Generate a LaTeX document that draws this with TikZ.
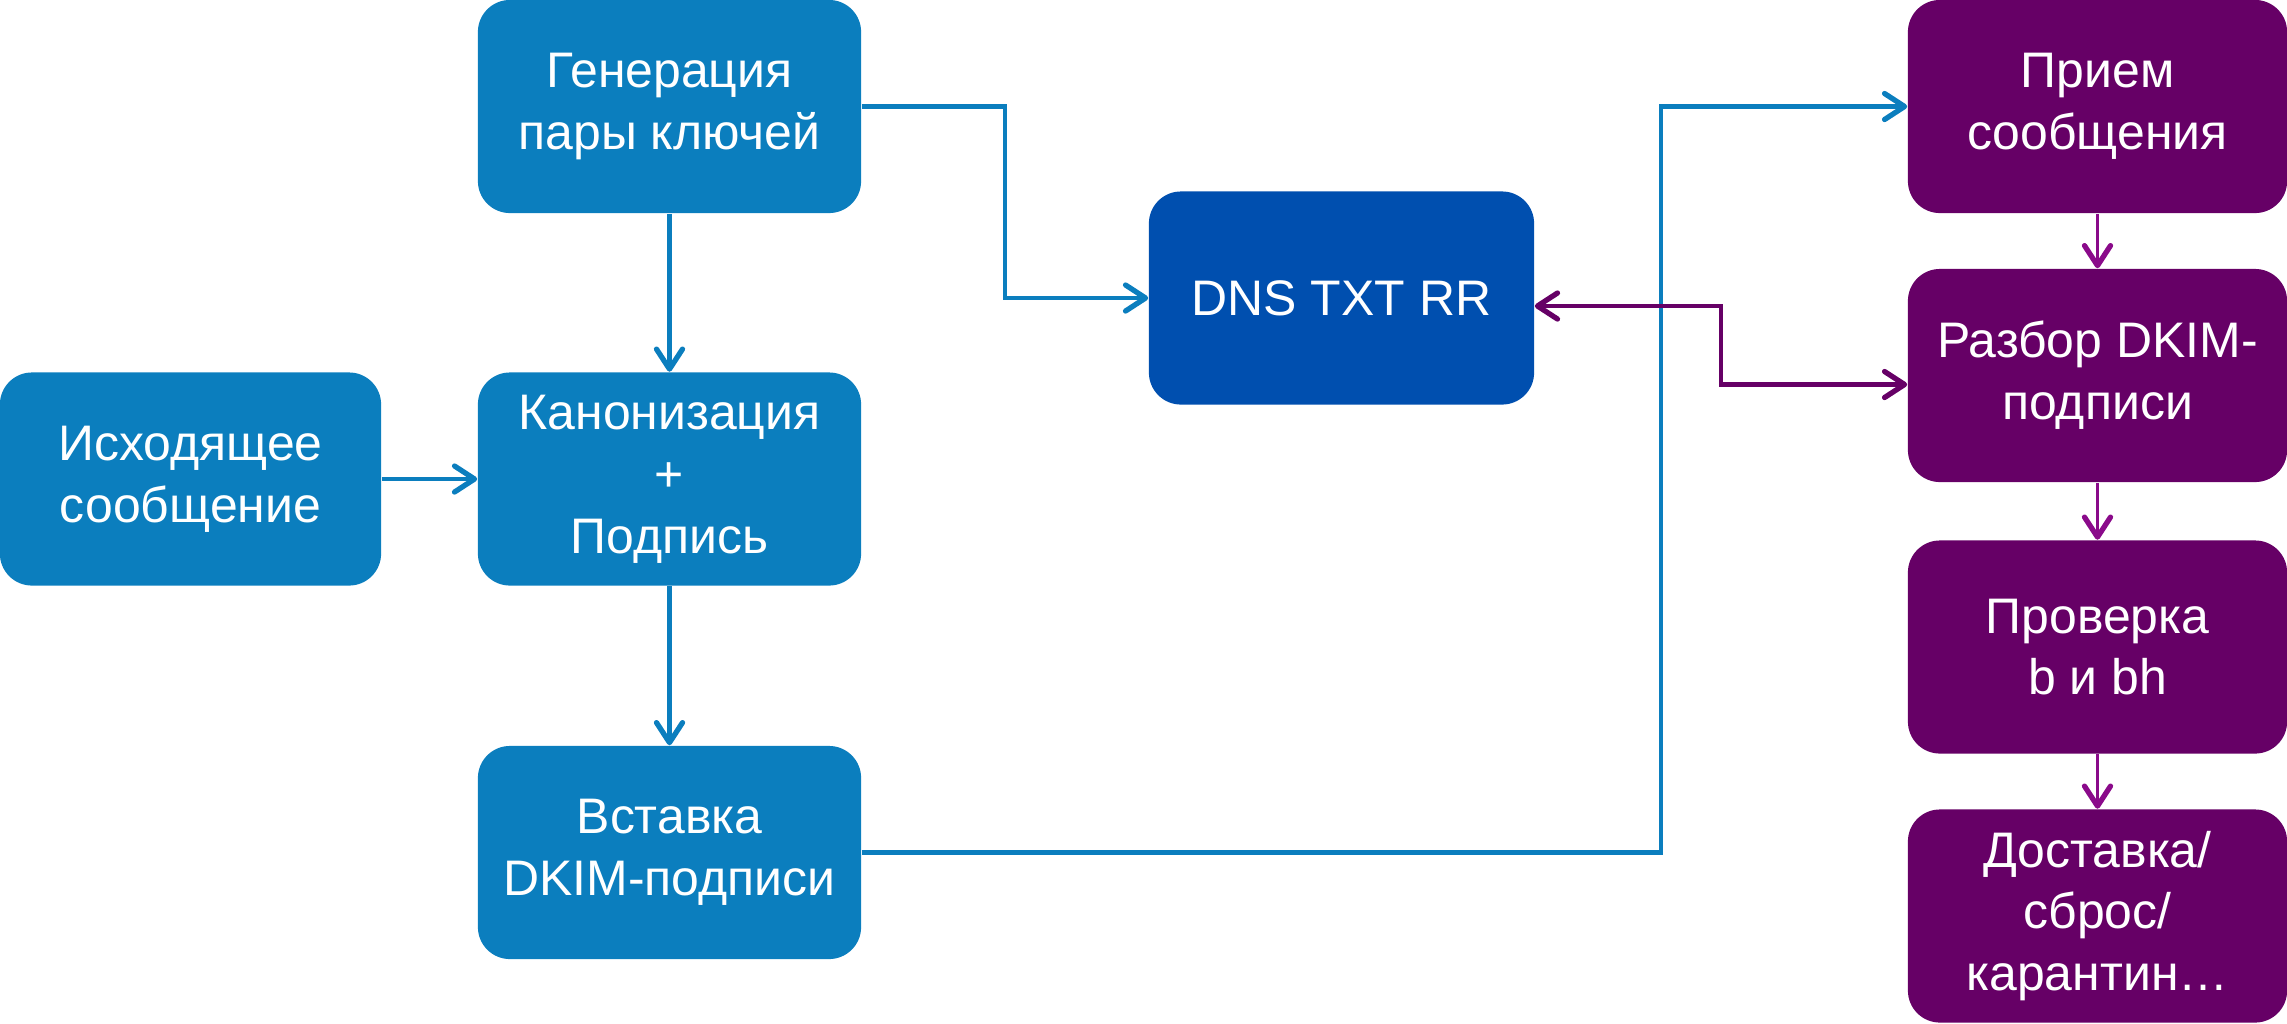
\documentclass[tikz,border=0pt]{standalone}
\usepackage{fontspec}
\setmainfont{Liberation Sans}
\usetikzlibrary{arrows.meta,calc}
\definecolor{bluebox}{HTML}{0B7EBE}
\definecolor{dnsbox}{HTML}{004FAF}
\definecolor{purplebox}{HTML}{660066}
\definecolor{purplearrow}{HTML}{8A0A8A}
\tikzset{
  barbtip/.tip={Straight Barb[length=2mm,width=2.6mm,line width=1.5pt,round]},
  box/.style={rectangle, rounded corners=0.32cm, minimum width=3.83cm, minimum height=2.13cm,
    text=white, align=center, inner sep=0pt, font=\fontsize{14.2}{17.6}\selectfont},
  bluenode/.style={box, fill=bluebox},
  dnsnode/.style={box, fill=dnsbox, minimum width=3.85cm},
  purplenode/.style={box, fill=purplebox, minimum width=3.79cm},
  bluearrow/.style={draw=bluebox, line width=1.2pt, -barbtip},
  purplelink/.style={draw=purplebox, line width=1.2pt, barbtip-barbtip},
  purplearr/.style={draw=purplearrow, line width=1.1pt, -barbtip},
}
\begin{document}
\begin{tikzpicture}[x=0.01cm, y=-0.01cm]
\useasboundingbox (0,0) rectangle (2287,1023);
\node[bluenode] (gen) at (669.5,106.5) {Генерация\\пары ключей};
\node[bluenode, minimum width=3.81cm] (out) at (190.5,479) {Исходящее\\сообщение};
\node[bluenode] (can) at (669.5,479) {Канонизация\\+\\Подпись};
\node[bluenode] (ins) at (669.5,852.5) {Вставка\\DKIM-подписи};
\node[dnsnode] (dns) at (1341.5,298) {DNS TXT RR};
\node[purplenode] (rcv) at (2097.5,106.5) {Прием\\сообщения};
\node[purplenode] (prs) at (2097.5,375.5) {Разбор DKIM-\\подписи};
\node[purplenode] (chk) at (2097.5,647) {Проверка\\b и bh};
\node[purplenode] (dlv) at (2097.5,916) {Доставка/\\сброс/\\карантин…};
\coordinate (k1) at (1005,0);
\coordinate (k2) at (1661,0);
\coordinate (k3) at (1721,0);
\draw[bluearrow] (gen.east) -- (gen.east -| k1) -- (k1 |- dns.west) -- (dns.west);
\draw[bluearrow] (gen.south) -- (can.north);
\draw[bluearrow] (out.east) -- (can.west);
\draw[bluearrow] (can.south) -- (ins.north);
\draw[bluearrow] (ins.east) -- (ins.east -| k2) -- (k2 |- rcv.west) -- (rcv.west);
\coordinate (d1) at ($(dns.east)+(0,8)$);
\coordinate (p1) at ($(prs.west)+(0,9)$);
\draw[purplelink] (d1) -- (d1 -| k3) -- (k3 |- p1) -- (p1);
\draw[purplearr] (rcv.south) -- (prs.north);
\draw[purplearr] (prs.south) -- (chk.north);
\draw[purplearr] (chk.south) -- (dlv.north);
\end{tikzpicture}
\end{document}
